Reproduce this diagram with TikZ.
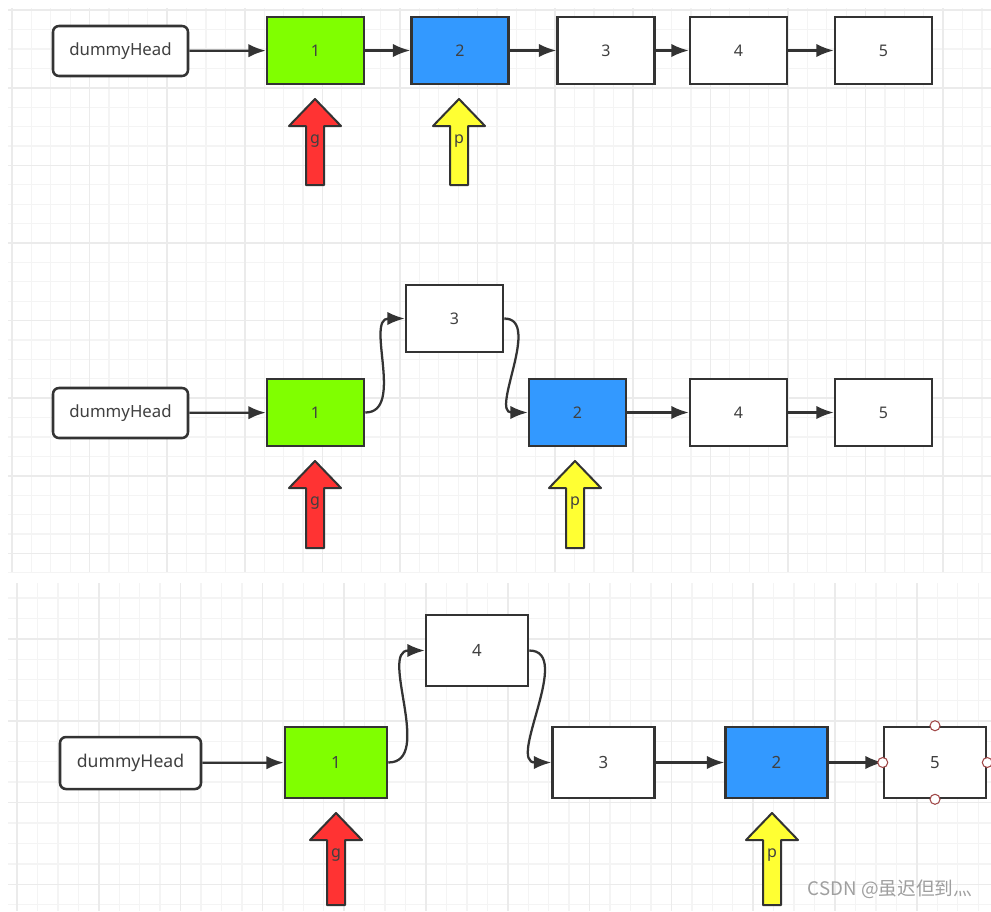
\documentclass[tikz,border=0pt]{standalone}
\usepackage{fontspec}
\setmainfont{Noto Sans}
\newfontfamily\cjkfont{Noto Sans CJK SC}
\usetikzlibrary{arrows.meta}

\definecolor{edgegray}{HTML}{333333}
\definecolor{txtgray}{HTML}{404040}
\definecolor{nodegreen}{HTML}{80FF00}
\definecolor{nodeblue}{HTML}{3399FF}
\definecolor{ptrred}{HTML}{FF3333}
\definecolor{ptryellow}{HTML}{FFFF33}
\definecolor{gridminor}{HTML}{F4F4F4}
\definecolor{gridmajor}{HTML}{EBEBEB}
\definecolor{handlered}{HTML}{A04848}

\tikzset{
  box/.style={draw=edgegray,line width=1.9pt,fill=white,text=txtgray,minimum width=72.75pt,minimum height=50.25pt,font=\fontsize{12}{14}\selectfont},
  bigbox/.style={box,minimum width=76.5pt,minimum height=53.25pt,font=\fontsize{12.6}{15}\selectfont},
  head/.style={box,rounded corners=4.5pt,minimum width=101.25pt,minimum height=37.5pt,font=\fontsize{12.6}{15}\selectfont},
  bighead/.style={head,minimum width=105.75pt,minimum height=39pt,font=\fontsize{13.2}{16}\selectfont},
  link/.style={->,draw=edgegray,line width=1.7pt},
  handle/.style={circle,draw=handlered,fill=white,line width=0.8pt,minimum size=7.5pt,inner sep=0pt},
  ptrbody/.style={draw=edgegray,line width=1.5pt,line join=round},
  minorline/.style={draw=gridminor,line width=1pt},
  majorline/.style={draw=gridmajor,line width=1.1pt}
}

% pointer arrow: x, tip y, bottom y, colour, label, name
\newcommand{\ptrmark}[6]{%
  \draw[ptrbody,fill=#4] (#1,#2) -- ({#1+26},{#2+27}) -- ({#1+9},{#2+27}) -- ({#1+9},#3)
    -- ({#1-9},#3) -- ({#1-9},{#2+27}) -- ({#1-26},{#2+27}) -- cycle;
  \node[text=txtgray,font=\fontsize{12}{14}\selectfont] (#6) at (#1,{#2+42}) {#5};}

\begin{document}
\begin{tikzpicture}[x=0.75pt,y=-0.75pt,>={Latex[length=13pt,width=10pt]}]
  \useasboundingbox[fill=white] (0,0) rectangle (991,911);
  % grid, top two steps
  \begin{scope}
    \clip (8,8) rectangle (991,572);
    \foreach \k in {0,...,51} \draw[minorline] ({12+19.4*\k},8) -- ({12+19.4*\k},572);
    \foreach \k in {0,...,29} \draw[minorline] (8,{10.2+19.4*\k}) -- (991,{10.2+19.4*\k});
    \foreach \k in {0,...,12} \draw[majorline] ({12+77.6*\k},8) -- ({12+77.6*\k},572);
    \foreach \k in {0,...,7} \draw[majorline] (8,{10.2+77.6*\k}) -- (991,{10.2+77.6*\k});
  \end{scope}
  % grid, last step
  \begin{scope}
    \clip (8,583) rectangle (991,911);
    \foreach \k in {0,...,48} \draw[minorline] ({17+20.45*\k},583) -- ({17+20.45*\k},911);
    \foreach \k in {0,...,16} \draw[minorline] (8,{598+20.45*\k}) -- (991,{598+20.45*\k});
    \foreach \k in {0,...,12} \draw[majorline] ({17+81.8*\k},583) -- ({17+81.8*\k},911);
    \foreach \k in {0,...,4} \draw[majorline] (8,{557.2+81.8*\k}) -- (991,{557.2+81.8*\k});
  \end{scope}

  % step 1
  \node[head] (d1) at (120.5,51) {dummyHead};
  \node[box,fill=nodegreen] (a1) at (315.5,50.5) {1};
  \node[box,fill=nodeblue] (a2) at (460,50.5) {2};
  \node[box] (a3) at (606,50.5) {3};
  \node[box] (a4) at (738.5,50.5) {4};
  \node[box] (a5) at (883.5,50.5) {5};
  \path (d1) edge[link] (a1);
  \path (a1) edge[link] (a2);
  \path (a2) edge[link] (a3);
  \path (a3) edge[link] (a4);
  \path (a4) edge[link] (a5);
  \ptrmark{315}{99}{185}{ptrred}{g}{g1}
  \ptrmark{459}{99}{185}{ptryellow}{p}{p1}

  % step 2
  \node[head] (d2) at (120.5,413) {dummyHead};
  \node[box,fill=nodegreen] (b1) at (315.5,412.5) {1};
  \node[box] (b3) at (454.5,318.5) {3};
  \node[box,fill=nodeblue] (b2) at (577.5,412.5) {2};
  \node[box] (b4) at (738.5,412.5) {4};
  \node[box] (b5) at (883.5,412.5) {5};
  \path (d2) edge[link] (b1);
  \path (b1) edge[link,out=0,in=180] (b3);
  \path (b3) edge[link,out=0,in=180] (b2);
  \path (b2) edge[link] (b4);
  \path (b4) edge[link] (b5);
  \ptrmark{315}{461}{548}{ptrred}{g}{g2}
  \ptrmark{575}{461}{548}{ptryellow}{p}{p2}

  % step 3
  \node[bighead] (d3) at (130.5,763) {dummyHead};
  \node[bigbox,fill=nodegreen] (c1) at (336,762.5) {1};
  \node[bigbox] (c4) at (477,650.5) {4};
  \node[bigbox] (c3) at (603.5,762.5) {3};
  \node[bigbox,fill=nodeblue] (c2) at (776.5,762.5) {2};
  \node[bigbox] (c5) at (935,762.5) {5};
  \path (d3) edge[link] (c1);
  \path (c1) edge[link,out=0,in=180] (c4);
  \path (c4) edge[link,out=0,in=180] (c3);
  \path (c3) edge[link] (c2);
  \path (c2) edge[link] (c5);
  \node[handle] (h1) at (c5.north) {};
  \node[handle] (h2) at (c5.south) {};
  \node[handle] (h3) at (c5.west) {};
  \node[handle] (h4) at (c5.east) {};
  \ptrmark{336}{813}{905}{ptrred}{g}{g3}
  \ptrmark{772}{813}{905}{ptryellow}{p}{p3}

  \node[text=gray!75,font=\cjkfont\fontsize{14}{16}\selectfont] (mark) at (890,889) {CSDN @虽迟但到灬};
\end{tikzpicture}
\end{document}
